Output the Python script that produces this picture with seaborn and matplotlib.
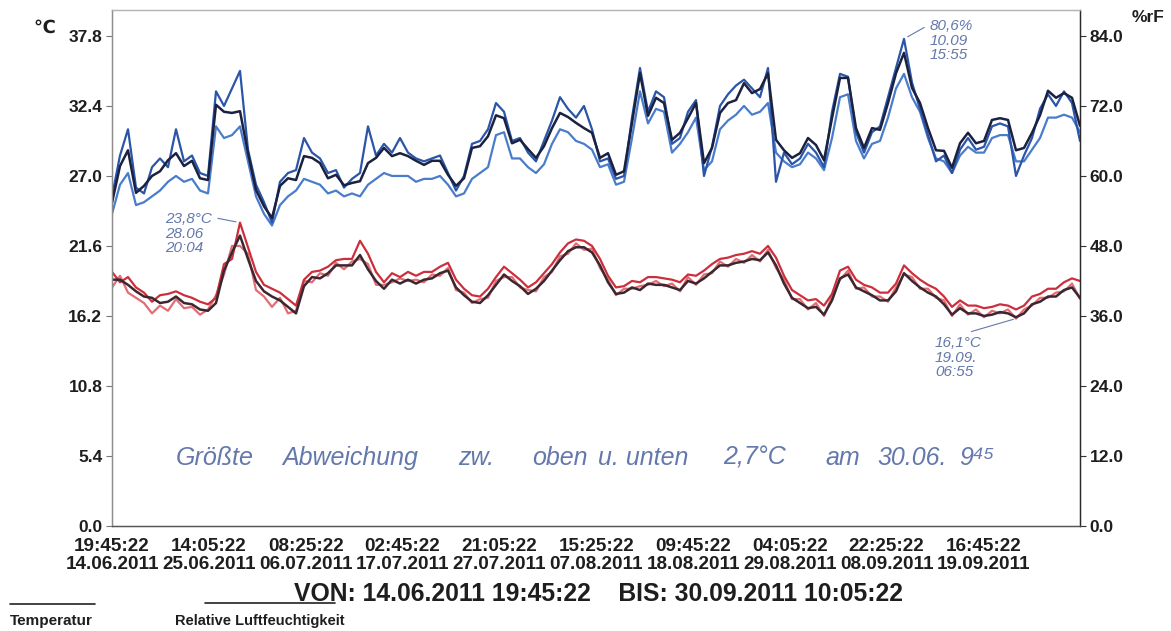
import pandas as pd
import matplotlib.pyplot as plt
from matplotlib.lines import Line2D
import seaborn as sns

# Messzeitraum
start = "2011-06-14 19:45:22"
end = "2011-09-30 10:05:22"

# Relative Luftfeuchtigkeit (%rF), drei Fühler
rf_dunkel = [55.4, 61.7, 64.4, 57.1, 58.3, 60.0, 60.8, 62.7, 63.9, 61.7,
             62.6, 59.6, 59.3, 72.2, 71.0, 70.8, 71.1, 63.9, 57.6, 54.8,
             52.8, 58.3, 59.6, 59.3, 63.4, 63.1, 62.2, 59.6, 60.2, 58.4,
             58.8, 59.1, 62.2, 63.1, 64.8, 63.4, 63.9, 63.4, 62.6, 61.9,
             62.6, 62.6, 60.2, 58.3, 59.6, 64.8, 65.1, 66.8, 70.4, 69.9,
             65.6, 66.2, 64.6, 63.1, 65.1, 68.2, 70.8, 70.1, 69.1, 68.2,
             67.4, 63.1, 63.9, 60.2, 60.8, 69.1, 77.6, 70.3, 73.4, 72.5,
             66.2, 67.4, 69.9, 72.5, 62.2, 64.8, 70.8, 72.5, 73.0, 75.9,
             74.2, 74.9, 77.6, 66.2, 64.4, 63.1, 63.9, 66.5, 65.3, 62.7,
             69.9, 76.8, 76.8, 68.2, 64.8, 68.2, 67.9, 72.5, 77.6, 81.1,
             75.1, 72.5, 68.2, 64.4, 64.3, 61.4, 65.6, 67.4, 65.6, 66.0,
             69.6, 69.9, 69.6, 64.4, 64.8, 67.4, 70.4, 74.6, 73.4, 74.2,
             73.4, 68.6]
rf_blau1 = [56.5, 63.5, 68.0, 58.0, 57.0, 61.5, 63.0, 61.5, 68.0, 62.5,
            63.5, 60.5, 60.0, 74.5, 72.0, 75.0, 78.0, 64.5, 58.5, 55.5,
            52.0, 59.0, 60.5, 61.0, 66.5, 64.0, 63.0, 60.5, 61.0, 58.0,
            59.5, 60.5, 68.5, 63.5, 65.5, 64.0, 66.5, 64.0, 63.0, 62.5,
            63.0, 63.5, 60.5, 57.5, 60.0, 65.5, 66.0, 68.0, 72.5, 71.0,
            66.0, 66.5, 64.0, 62.5, 66.0, 69.5, 73.5, 71.5, 70.0, 72.0,
            68.0, 62.5, 63.0, 59.5, 60.0, 70.0, 78.5, 71.0, 74.5, 73.5,
            65.5, 66.5, 71.0, 73.0, 60.0, 65.0, 72.0, 74.0, 75.5, 76.5,
            75.0, 73.5, 78.5, 59.0, 64.0, 62.0, 63.0, 65.5, 64.0, 61.5,
            71.0, 77.5, 77.0, 67.5, 64.0, 67.5, 68.5, 73.5, 78.5, 83.5,
            76.0, 71.5, 67.0, 62.5, 63.5, 60.5, 64.5, 66.5, 64.5, 65.0,
            68.5, 69.0, 68.5, 60.0, 63.5, 66.5, 71.5, 74.0, 72.0, 74.5,
            72.5, 66.0]
rf_blau2 = [53.5, 58.5, 60.5, 55.0, 55.5, 56.5, 57.5, 59.0, 60.0, 59.0,
            59.5, 57.5, 57.0, 68.5, 66.5, 67.0, 68.5, 62.5, 56.5, 53.5,
            51.5, 55.0, 56.5, 57.5, 59.5, 59.0, 58.5, 57.0, 57.5, 56.5,
            57.0, 56.5, 58.5, 59.5, 60.5, 60.0, 60.0, 60.0, 59.0, 59.5,
            59.5, 60.0, 58.5, 56.5, 57.0, 59.5, 60.5, 61.5, 67.0, 67.5,
            63.0, 63.0, 61.5, 60.5, 62.0, 65.5, 68.0, 67.5, 66.0, 65.5,
            64.5, 61.5, 62.0, 58.5, 59.0, 66.5, 74.5, 69.0, 71.5, 71.0,
            64.0, 65.5, 67.5, 70.0, 61.0, 62.5, 68.0, 69.5, 70.5, 72.0,
            70.5, 71.0, 72.5, 64.0, 62.5, 61.5, 62.0, 64.0, 63.0, 61.0,
            66.5, 73.5, 74.0, 66.0, 63.0, 65.5, 66.0, 70.0, 75.0, 77.5,
            73.5, 71.0, 66.5, 63.0, 62.5, 60.5, 63.5, 65.0, 64.0, 64.0,
            66.5, 67.0, 67.0, 62.5, 62.5, 64.5, 66.5, 70.0, 70.0, 70.5,
            70.0, 67.5]

# Temperatur (°C), drei Fühler
t_dunkel = [19.0, 19.0, 18.6, 18.1, 17.7, 17.6, 17.2, 17.3, 17.7, 17.2,
            17.1, 16.7, 16.6, 17.2, 19.7, 21.1, 22.4, 20.6, 18.9, 18.1,
            17.7, 17.4, 16.9, 16.4, 18.5, 19.2, 19.1, 19.5, 20.1, 20.1,
            20.1, 20.9, 19.8, 18.9, 18.3, 19.0, 18.7, 19.0, 18.7, 19.0,
            19.1, 19.5, 19.7, 18.4, 17.8, 17.3, 17.2, 17.8, 18.6, 19.4,
            18.9, 18.5, 17.9, 18.3, 18.9, 19.7, 20.5, 21.2, 21.5, 21.5,
            21.1, 20.1, 18.8, 17.9, 18.0, 18.4, 18.2, 18.7, 18.6, 18.6,
            18.4, 18.2, 18.9, 18.7, 19.1, 19.6, 20.1, 20.1, 20.3, 20.4,
            20.6, 20.5, 21.1, 20.1, 18.7, 17.6, 17.2, 16.8, 16.9, 16.3,
            17.4, 19.1, 19.4, 18.4, 18.1, 17.8, 17.4, 17.4, 18.1, 19.5,
            18.9, 18.4, 18.0, 17.7, 17.1, 16.3, 16.8, 16.4, 16.4, 16.2,
            16.3, 16.5, 16.4, 16.1, 16.4, 17.1, 17.3, 17.7, 17.7, 18.2,
            18.4, 17.6]
t_rot1 = [19.6, 18.8, 19.2, 18.4, 18.0, 17.3, 17.8, 17.9, 18.1, 17.8,
          17.6, 17.3, 17.1, 17.6, 20.2, 20.6, 23.4, 21.5, 19.6, 18.6,
          18.3, 18.0, 17.5, 17.0, 19.0, 19.6, 19.7, 20.0, 20.5, 20.6,
          20.6, 22.0, 21.0, 19.6, 18.8, 19.5, 19.2, 19.6, 19.3, 19.6,
          19.6, 20.0, 20.3, 19.0, 18.3, 17.8, 17.7, 18.3, 19.2, 20.0,
          19.5, 19.0, 18.4, 18.8, 19.5, 20.2, 21.1, 21.8, 22.1, 22.0,
          21.6, 20.6, 19.3, 18.4, 18.5, 18.9, 18.8, 19.2, 19.2, 19.1,
          19.0, 18.8, 19.4, 19.3, 19.7, 20.2, 20.6, 20.7, 20.9, 21.0,
          21.2, 21.0, 21.6, 20.7, 19.3, 18.2, 17.8, 17.4, 17.5, 17.0,
          17.9, 19.7, 20.0, 19.0, 18.6, 18.4, 18.0, 18.0, 18.7, 20.1,
          19.5, 19.0, 18.6, 18.3, 17.7, 16.9, 17.4, 17.0, 17.0, 16.8,
          16.9, 17.1, 17.0, 16.7, 17.0, 17.7, 17.9, 18.3, 18.3, 18.8,
          19.1, 18.9]
t_rot2 = [18.4, 19.3, 18.0, 17.6, 17.2, 16.4, 17.0, 16.6, 17.5, 16.8,
          16.9, 16.3, 16.7, 17.8, 19.4, 21.6, 21.6, 21.0, 18.2, 17.7,
          16.9, 17.6, 16.4, 16.6, 18.9, 18.8, 19.5, 19.3, 20.3, 19.8,
          20.4, 20.6, 20.2, 18.6, 18.6, 18.8, 19.1, 18.9, 19.0, 18.8,
          19.4, 19.3, 19.9, 18.2, 18.0, 17.2, 17.5, 17.6, 18.9, 19.2,
          19.2, 18.4, 18.2, 18.1, 19.2, 19.6, 20.8, 21.0, 21.8, 21.3,
          21.4, 19.9, 19.0, 17.8, 18.3, 18.3, 18.5, 18.6, 18.9, 18.5,
          18.7, 18.1, 19.2, 18.6, 19.4, 19.5, 20.4, 20.0, 20.6, 20.3,
          20.9, 20.4, 21.3, 19.9, 19.0, 17.5, 17.5, 16.7, 17.2, 16.2,
          17.7, 19.0, 19.7, 18.3, 18.4, 17.7, 17.7, 17.3, 18.4, 19.4,
          19.2, 18.3, 18.3, 17.6, 17.4, 16.2, 17.1, 16.3, 16.7, 16.1,
          16.6, 16.4, 16.7, 16.0, 16.7, 17.0, 17.6, 17.6, 18.0, 18.1,
          18.7, 17.5]

tick_zeiten = ["2011-06-14 19:45:22", "2011-06-25 14:05:22", "2011-07-06 08:25:22",
               "2011-07-17 02:45:22", "2011-07-27 21:05:22", "2011-08-07 15:25:22",
               "2011-08-18 09:45:22", "2011-08-29 04:05:22", "2011-09-08 22:25:22",
               "2011-09-19 16:45:22"]
ticks_links = [0.0, 5.4, 10.8, 16.2, 21.6, 27.0, 32.4, 37.8]
ticks_rechts = [0.0, 12.0, 24.0, 36.0, 48.0, 60.0, 72.0, 84.0]

# handschriftliche Notiz, Wort für Wort
notiz_worte = ["Größte", "Abweichung", "zw.", "oben", "u. unten", "2,7°C", "am", "30.06.", "9⁴⁵"]
notiz_x = [176, 282, 458, 532, 598, 723, 825, 877, 959]

df = pd.DataFrame({
    "zeit": pd.date_range(start, end, periods=len(t_dunkel)),
    "rf_dunkel": rf_dunkel, "rf_blau1": rf_blau1, "rf_blau2": rf_blau2,
    "t_dunkel": t_dunkel, "t_rot1": t_rot1, "t_rot2": t_rot2,
})

sns.set_style("white")
plt.rcParams["font.family"] = ["Liberation Sans", "DejaVu Sans"]
txt = "#1e1e1e"
hand = "#6378ac"
hand_font = dict(family=["Liberation Sans", "DejaVu Sans"], style="italic", color=hand)

fig = plt.figure(figsize=(11.71, 6.31), dpi=100)
W, H = 1171, 631
ax = fig.add_axes([112 / W, (H - 526) / H, (1080 - 112) / W, (526 - 10) / H])
ax2 = ax.twinx()

# Temperatur (links)
sns.lineplot(data=df, x="zeit", y="t_rot2", ax=ax, color="#e26d75", lw=1.6)
sns.lineplot(data=df, x="zeit", y="t_rot1", ax=ax, color="#cc2f3b", lw=1.6)
sns.lineplot(data=df, x="zeit", y="t_dunkel", ax=ax, color="#3b2730", lw=1.8)
# Luftfeuchte (rechts)
sns.lineplot(data=df, x="zeit", y="rf_blau2", ax=ax2, color="#4a7ccc", lw=1.6)
sns.lineplot(data=df, x="zeit", y="rf_blau1", ax=ax2, color="#2a55a8", lw=1.6)
sns.lineplot(data=df, x="zeit", y="rf_dunkel", ax=ax2, color="#1b2140", lw=1.8)

ax.set_xlim(pd.Timestamp(start), pd.Timestamp(end))
ax.set_ylim(0, 39.8)
ax2.set_ylim(0, 39.8 * 84 / 37.8)
for a in (ax, ax2):
    a.set_xlabel("")
    a.set_ylabel("")

tz = pd.to_datetime(tick_zeiten)
ax.set_xticks(tz)
ax.set_xticklabels([t.strftime("%H:%M:%S\n%d.%m.%Y") for t in tz],
                   fontsize=13.6, fontweight="bold", color=txt, linespacing=1.08)
ax.set_yticks(ticks_links)
ax.set_yticklabels([f"{v:.1f}" for v in ticks_links], fontsize=12.5, fontweight="bold", color=txt)
ax2.set_yticks(ticks_rechts)
ax2.set_yticklabels([f"{v:.1f}" for v in ticks_rechts], fontsize=12.5, fontweight="bold", color=txt)
ax.tick_params(axis="x", length=4, width=0.8, pad=4.5, colors="#555555", labelcolor=txt)
ax.tick_params(axis="y", length=4, width=0.8, pad=3, colors="#777777", labelcolor=txt)
ax2.tick_params(axis="y", length=4, width=0.8, pad=3, colors="#333333", labelcolor=txt)

for a in (ax, ax2):
    a.spines["top"].set_color("#b5b5b5")
    a.spines["left"].set_color("#8c8c8c")
    a.spines["bottom"].set_color("#555555")
    a.spines["right"].set_color("#2a2a2a")
    for s in a.spines.values():
        s.set_linewidth(0.9)

fig.text(33 / W, 1 - 28 / H, "℃", fontsize=13, fontweight="bold", color=txt, va="center")
fig.text(1132 / W, 1 - 18 / H, "%rF", fontsize=12.5, fontweight="bold", color=txt, va="center")

# handschriftliche Notizen
i_t = t_rot1.index(max(t_rot1))
ax.annotate("23,8°C\n28.06\n20:04", xy=(df["zeit"][i_t], t_rot1[i_t]),
            xytext=(165, H - 212), textcoords="figure pixels", ha="left", va="top",
            fontsize=11, linespacing=1.05,
            arrowprops=dict(arrowstyle="-", color=hand, lw=0.8, relpos=(1.0, 0.88),
                            shrinkA=2, shrinkB=3), **hand_font)
i_h = rf_blau1.index(max(rf_blau1))
ax2.annotate("80,6%\n10.09\n15:55", xy=(df["zeit"][i_h], rf_blau1[i_h]),
             xytext=(930, H - 19), textcoords="figure pixels", ha="left", va="top",
             fontsize=11, linespacing=1.05,
             arrowprops=dict(arrowstyle="-", color=hand, lw=0.8, relpos=(0.0, 0.88),
                             shrinkA=2, shrinkB=3), **hand_font)
i_m = t_rot2.index(min(t_rot2))
ax.annotate("16,1°C\n19.09.\n06:55", xy=(df["zeit"][i_m], t_rot2[i_m]),
            xytext=(935, H - 336), textcoords="figure pixels", ha="left", va="top",
            fontsize=11, linespacing=1.05,
            arrowprops=dict(arrowstyle="-", color=hand, lw=0.8, relpos=(0.45, 1.0),
                            shrinkA=3, shrinkB=2), **hand_font)
for wort, x in zip(notiz_worte, notiz_x):
    fig.text(x / W, 1 - 458 / H, wort, fontsize=18, va="center", ha="left", **hand_font)

# Fußzeile
fig.text(598 / W, 1 - 594 / H, "VON: 14.06.2011 19:45:22    BIS: 30.09.2011 10:05:22",
         fontsize=17.8, fontweight="bold", color=txt, ha="center", va="center")
fig.text(10 / W, 1 - 621 / H, "Temperatur", fontsize=11, fontweight="bold", color=txt, va="center")
fig.text(175 / W, 1 - 621 / H, "Relative Luftfeuchtigkeit", fontsize=10.5, fontweight="bold",
         color=txt, va="center")
fig.add_artist(Line2D([10 / W, 95 / W], [1 - 604 / H] * 2, color="#222222", lw=1.2))
fig.add_artist(Line2D([205 / W, 335 / W], [1 - 603 / H] * 2, color="#222222", lw=1.2))

fig.savefig("out.png", dpi=100)
